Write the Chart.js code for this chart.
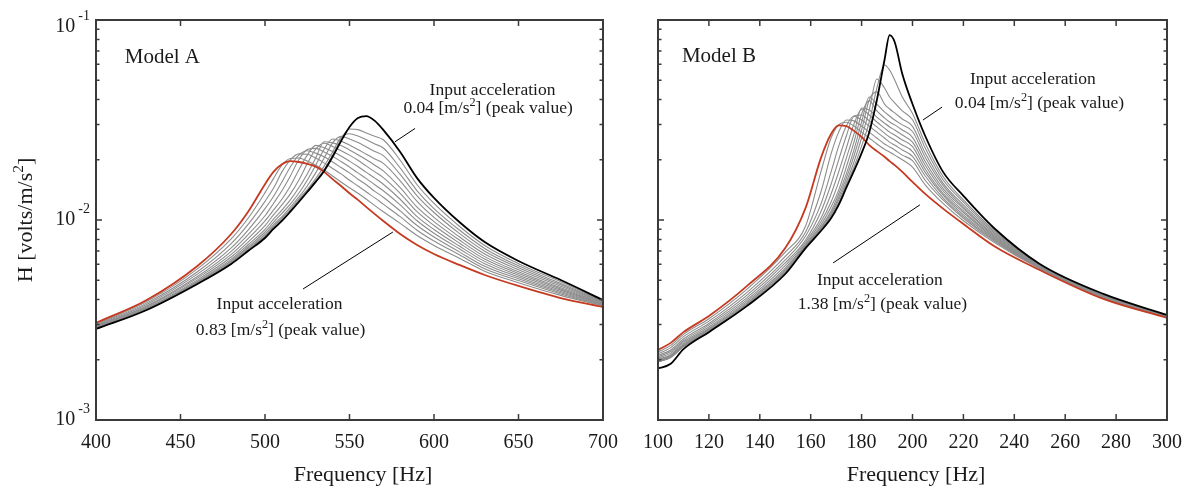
<!DOCTYPE html>
<html>
<head>
<meta charset="utf-8">
<script src="https://cdn.jsdelivr.net/npm/chart.js@4.4.1/dist/chart.umd.min.js"></script>
<style>
  html, body { margin: 0; padding: 0; background: #fff; }
  #wrap { position: relative; width: 1186px; height: 492px; }
  .panel { position: absolute; top: 0; height: 492px; }
  #panelA { left: 0; width: 620px; }
  #panelB { left: 620px; width: 566px; }
</style>
</head>
<body>
<div id="wrap">
  <div class="panel" id="panelA"><canvas id="chartA"></canvas></div>
  <div class="panel" id="panelB"><canvas id="chartB"></canvas></div>
</div>
<script>
// Model A: frequency grid [Hz] and H [volts/m/s^2] for each input level
const freqA = [400, 430, 460, 480, 490, 500, 505, 510, 515, 520, 525, 530, 535, 540, 545, 550, 555, 560, 565, 570, 580, 590, 600, 615, 630, 650, 675, 700];
const hA_004 = [0.00285, 0.00355, 0.00479, 0.00603, 0.00700, 0.00813, 0.00902, 0.00989, 0.0110, 0.0123, 0.0138, 0.0155, 0.0176, 0.0207, 0.0248, 0.0292, 0.0324, 0.0331, 0.0313, 0.0282, 0.0219, 0.0162, 0.0129, 0.00977, 0.00776, 0.00624, 0.00501, 0.00398];
const gA1 = [0.00286, 0.00356, 0.00481, 0.00607, 0.00706, 0.00822, 0.00914, 0.0100, 0.0111, 0.0125, 0.0140, 0.0157, 0.0179, 0.0211, 0.0254, 0.0285, 0.0283, 0.0272, 0.0262, 0.0252, 0.0199, 0.0150, 0.0121, 0.00931, 0.00746, 0.00605, 0.00491, 0.00394];
const gA2 = [0.00286, 0.00356, 0.00483, 0.00611, 0.00713, 0.00834, 0.00927, 0.0102, 0.0113, 0.0127, 0.0142, 0.0161, 0.0186, 0.0219, 0.0260, 0.0270, 0.0263, 0.0252, 0.0240, 0.0229, 0.0182, 0.0140, 0.0114, 0.00891, 0.00721, 0.00590, 0.00482, 0.00392];
const gA3 = [0.00286, 0.00358, 0.00485, 0.00617, 0.00723, 0.00849, 0.00946, 0.0104, 0.0116, 0.0130, 0.0148, 0.0172, 0.0204, 0.0243, 0.0262, 0.0254, 0.0244, 0.0232, 0.0220, 0.0210, 0.0169, 0.0132, 0.0109, 0.00857, 0.00698, 0.00577, 0.00474, 0.00390];
const gA4 = [0.00287, 0.00359, 0.00490, 0.00626, 0.00735, 0.00871, 0.00973, 0.0108, 0.0120, 0.0136, 0.0158, 0.0188, 0.0226, 0.0254, 0.0248, 0.0237, 0.0225, 0.0213, 0.0202, 0.0192, 0.0157, 0.0124, 0.0103, 0.00824, 0.00676, 0.00564, 0.00466, 0.00387];
const gA5 = [0.00288, 0.00361, 0.00494, 0.00637, 0.00752, 0.00897, 0.0101, 0.0112, 0.0126, 0.0145, 0.0170, 0.0204, 0.0246, 0.0243, 0.0236, 0.0224, 0.0212, 0.0200, 0.0188, 0.0176, 0.0145, 0.0116, 0.00982, 0.00794, 0.00656, 0.00551, 0.00458, 0.00385];
const gA6 = [0.00290, 0.00364, 0.00502, 0.00653, 0.00776, 0.00938, 0.0106, 0.0119, 0.0135, 0.0158, 0.0191, 0.0226, 0.0242, 0.0233, 0.0222, 0.0211, 0.0199, 0.0186, 0.0174, 0.0163, 0.0136, 0.0110, 0.00938, 0.00767, 0.00638, 0.00540, 0.00452, 0.00382];
const gA7 = [0.00292, 0.00368, 0.00512, 0.00673, 0.00807, 0.00991, 0.0112, 0.0127, 0.0148, 0.0178, 0.0211, 0.0236, 0.0230, 0.0220, 0.0209, 0.0197, 0.0185, 0.0173, 0.0162, 0.0151, 0.0127, 0.0104, 0.00897, 0.00741, 0.00621, 0.00530, 0.00446, 0.00380];
const gA8 = [0.00294, 0.00372, 0.00522, 0.00697, 0.00845, 0.0105, 0.0121, 0.0140, 0.0166, 0.0200, 0.0225, 0.0228, 0.0219, 0.0208, 0.0196, 0.0184, 0.0172, 0.0161, 0.0150, 0.0140, 0.0119, 0.00991, 0.00859, 0.00718, 0.00604, 0.00519, 0.00439, 0.00378];
const gA9 = [0.00296, 0.00378, 0.00536, 0.00726, 0.00891, 0.0114, 0.0131, 0.0155, 0.0184, 0.0211, 0.0222, 0.0216, 0.0207, 0.0195, 0.0183, 0.0172, 0.0160, 0.0150, 0.0139, 0.0130, 0.0111, 0.00938, 0.00822, 0.00693, 0.00587, 0.00508, 0.00433, 0.00376];
const gA10 = [0.00299, 0.00384, 0.00551, 0.00762, 0.00951, 0.0124, 0.0144, 0.0174, 0.0200, 0.0214, 0.0213, 0.0204, 0.0193, 0.0181, 0.0170, 0.0158, 0.0148, 0.0138, 0.0129, 0.0120, 0.0104, 0.00889, 0.00785, 0.00670, 0.00571, 0.00498, 0.00427, 0.00374];
const gA11 = [0.00302, 0.00391, 0.00570, 0.00805, 0.0102, 0.0137, 0.0161, 0.0188, 0.0203, 0.0204, 0.0197, 0.0188, 0.0178, 0.0166, 0.0155, 0.0145, 0.0136, 0.0127, 0.0118, 0.0110, 0.00962, 0.00836, 0.00746, 0.00644, 0.00555, 0.00486, 0.00420, 0.00372];
const hA_083 = [0.00306, 0.00398, 0.00589, 0.00851, 0.0110, 0.0151, 0.0174, 0.0190, 0.0197, 0.0195, 0.0191, 0.0185, 0.0174, 0.0160, 0.0148, 0.0136, 0.0126, 0.0116, 0.0107, 0.00989, 0.00851, 0.00750, 0.00676, 0.00596, 0.00531, 0.00468, 0.00407, 0.00367];

// Model B
const freqB = [100, 105, 110, 120, 135, 150, 158, 164, 168, 171, 174, 177, 180, 183, 186, 189, 191, 193, 196, 200, 205, 212, 220, 232, 250, 275, 300];
const hB_004 = [0.00181, 0.00191, 0.00226, 0.00275, 0.00372, 0.00537, 0.00724, 0.00881, 0.0102, 0.0119, 0.0145, 0.0176, 0.0216, 0.0275, 0.0398, 0.0631, 0.0841, 0.0776, 0.0537, 0.0380, 0.0263, 0.0174, 0.0132, 0.00912, 0.00603, 0.00427, 0.00335];
const gB1 = [0.00195, 0.00205, 0.00233, 0.00277, 0.00373, 0.00541, 0.00728, 0.00891, 0.0104, 0.0122, 0.0150, 0.0184, 0.0234, 0.0309, 0.0457, 0.0596, 0.0562, 0.0501, 0.0412, 0.0341, 0.0242, 0.0165, 0.0126, 0.00889, 0.00597, 0.00424, 0.00333];
const gB2 = [0.00196, 0.00206, 0.00233, 0.00277, 0.00375, 0.00543, 0.00731, 0.00902, 0.0106, 0.0126, 0.0155, 0.0195, 0.0257, 0.0355, 0.0507, 0.0457, 0.0412, 0.0385, 0.0351, 0.0317, 0.0229, 0.0159, 0.0123, 0.00875, 0.00594, 0.00422, 0.00333];
const gB3 = [0.00197, 0.00207, 0.00234, 0.00279, 0.00378, 0.00548, 0.00736, 0.00912, 0.0108, 0.0130, 0.0162, 0.0209, 0.0282, 0.0398, 0.0437, 0.0380, 0.0359, 0.0343, 0.0320, 0.0294, 0.0216, 0.0153, 0.0119, 0.00861, 0.00592, 0.00420, 0.00332];
const gB4 = [0.00198, 0.00208, 0.00236, 0.00281, 0.00381, 0.00555, 0.00741, 0.00923, 0.0111, 0.0135, 0.0170, 0.0224, 0.0309, 0.0412, 0.0380, 0.0347, 0.0331, 0.0316, 0.0299, 0.0277, 0.0206, 0.0149, 0.0116, 0.00847, 0.00587, 0.00418, 0.00331];
const gB5 = [0.00200, 0.00210, 0.00238, 0.00284, 0.00385, 0.00564, 0.00750, 0.00944, 0.0116, 0.0141, 0.0184, 0.0245, 0.0339, 0.0394, 0.0351, 0.0324, 0.0309, 0.0299, 0.0282, 0.0259, 0.0196, 0.0144, 0.0114, 0.00836, 0.00585, 0.00416, 0.00330];
const gB6 = [0.00201, 0.00212, 0.00241, 0.00287, 0.00392, 0.00575, 0.00759, 0.00977, 0.0123, 0.0155, 0.0204, 0.0269, 0.0363, 0.0355, 0.0327, 0.0305, 0.0292, 0.0282, 0.0266, 0.0245, 0.0188, 0.0140, 0.0111, 0.00826, 0.00583, 0.00415, 0.00330];
const gB7 = [0.00204, 0.00216, 0.00245, 0.00292, 0.00400, 0.00592, 0.00776, 0.0102, 0.0135, 0.0174, 0.0229, 0.0302, 0.0357, 0.0335, 0.0309, 0.0288, 0.0275, 0.0266, 0.0251, 0.0233, 0.0180, 0.0136, 0.0109, 0.00815, 0.00581, 0.00414, 0.00329];
const gB8 = [0.00207, 0.00220, 0.00249, 0.00298, 0.00409, 0.00610, 0.00794, 0.0110, 0.0151, 0.0200, 0.0263, 0.0331, 0.0335, 0.0313, 0.0292, 0.0272, 0.0260, 0.0251, 0.0237, 0.0220, 0.0173, 0.0133, 0.0106, 0.00805, 0.00578, 0.00412, 0.00328];
const gB9 = [0.00210, 0.00224, 0.00254, 0.00304, 0.00421, 0.00631, 0.00832, 0.0120, 0.0174, 0.0234, 0.0295, 0.0330, 0.0316, 0.0295, 0.0275, 0.0257, 0.0245, 0.0237, 0.0224, 0.0208, 0.0166, 0.0129, 0.0104, 0.00796, 0.00575, 0.00411, 0.00327];
const gB10 = [0.00214, 0.00230, 0.00261, 0.00312, 0.00435, 0.00658, 0.00871, 0.0138, 0.0214, 0.0275, 0.0316, 0.0313, 0.0295, 0.0275, 0.0257, 0.0240, 0.0232, 0.0224, 0.0211, 0.0198, 0.0158, 0.0126, 0.0102, 0.00785, 0.00573, 0.00409, 0.00327];
const gB11 = [0.00219, 0.00236, 0.00268, 0.00321, 0.00451, 0.00690, 0.00933, 0.0174, 0.0257, 0.0299, 0.0308, 0.0295, 0.0275, 0.0257, 0.0240, 0.0226, 0.0219, 0.0211, 0.0200, 0.0184, 0.0150, 0.0121, 0.00991, 0.00773, 0.00570, 0.00407, 0.00326];
const hB_138 = [0.00224, 0.00243, 0.00275, 0.00331, 0.00468, 0.00724, 0.0115, 0.0204, 0.0269, 0.0297, 0.0295, 0.0279, 0.0260, 0.0237, 0.0221, 0.0207, 0.0197, 0.0188, 0.0174, 0.0155, 0.0135, 0.0114, 0.00955, 0.00741, 0.00562, 0.00403, 0.00324];

// tick labels
const xTicksA = [400, 450, 500, 550, 600, 650, 700];
const xTicksB = [100, 120, 140, 160, 180, 200, 220, 240, 260, 280, 300];
const yTickExp = [-3, -2, -1];

const SERIF = "'Liberation Serif', 'Times New Roman', serif";
const GRAY = '#8c8c8c';
const RED = '#c53a20';

function richWidth(ctx, parts, size) {
  let w = 0;
  for (const [t, sup] of parts) {
    ctx.font = (sup ? size * 0.7 : size) + 'px ' + SERIF;
    w += ctx.measureText(t).width;
  }
  return w;
}

function drawRich(ctx, parts, x, y, size, align) {
  const w = richWidth(ctx, parts, size);
  let cx = align === 'center' ? x - w / 2 : align === 'right' ? x - w : x;
  ctx.textAlign = 'left';
  ctx.textBaseline = 'alphabetic';
  for (const [t, sup] of parts) {
    ctx.font = (sup ? size * 0.7 : size) + 'px ' + SERIF;
    ctx.fillText(t, cx, sup ? y - size * 0.42 : y);
    cx += ctx.measureText(t).width;
  }
}

const framePlugin = {
  id: 'frame',
  afterDraw(chart, args, o) {
    const { ctx, chartArea: a, scales: { x, y } } = chart;
    ctx.save();
    ctx.strokeStyle = '#3a3a3a';
    ctx.fillStyle = '#1a1a1a';

    // inward ticks on all four sides
    ctx.lineWidth = 1.5;
    ctx.beginPath();
    for (const v of o.xTicks) {
      const px = x.getPixelForValue(v);
      ctx.moveTo(px, a.bottom); ctx.lineTo(px, a.bottom - 6);
      ctx.moveTo(px, a.top); ctx.lineTo(px, a.top + 6);
    }
    for (const e of yTickExp) {
      for (let m = 1; m <= 9; m++) {
        if (e === -1 && m > 1) break;
        const py = y.getPixelForValue(m * Math.pow(10, e));
        const len = m === 1 ? 6 : 3.5;
        ctx.moveTo(a.left, py); ctx.lineTo(a.left + len, py);
        ctx.moveTo(a.right, py); ctx.lineTo(a.right - len, py);
      }
    }
    ctx.stroke();
    ctx.lineWidth = 2;
    ctx.strokeRect(a.left, a.top, a.right - a.left, a.bottom - a.top);

    // x tick labels
    ctx.font = '20px ' + SERIF;
    ctx.textAlign = 'center';
    ctx.textBaseline = 'alphabetic';
    for (const v of o.xTicks) ctx.fillText(String(v), x.getPixelForValue(v), a.bottom + 28);

    // y tick labels 10^n
    if (o.yLabels) {
      for (const e of yTickExp) {
        const py = y.getPixelForValue(Math.pow(10, e));
        const base = Math.max(py + 5, a.top + 12);
        ctx.textAlign = 'right';
        ctx.font = '14px ' + SERIF;
        const ex = String(e);
        ctx.fillText(ex, a.left - 6, base - 12);
        const exW = ctx.measureText(ex).width;
        ctx.font = '20px ' + SERIF;
        ctx.fillText('10', a.left - 9 - exW, base);
      }
      // y title
      ctx.save();
      ctx.translate(32, (a.top + a.bottom) / 2);
      ctx.rotate(-Math.PI / 2);
      drawRich(ctx, [['H [volts/m/s'], ['2', true], [']']], 0, 0, 22, 'center');
      ctx.restore();
    }

    // x title
    drawRich(ctx, [['Frequency [Hz]']], x.getPixelForValue(o.xTitleAt), a.bottom + 61, 22, 'center');

    // model name
    drawRich(ctx, [[o.model[0]]], x.getPixelForValue(o.model[1]), y.getPixelForValue(o.model[2]), 21, 'left');

    // annotations
    for (const t of o.notes) {
      drawRich(ctx, t.parts, x.getPixelForValue(t.at[0]), y.getPixelForValue(t.at[1]), 17.5, 'center');
    }
    ctx.strokeStyle = '#000';
    ctx.lineWidth = 1;
    ctx.beginPath();
    for (const l of o.leaders) {
      ctx.moveTo(x.getPixelForValue(l[0]), y.getPixelForValue(l[1]));
      ctx.lineTo(x.getPixelForValue(l[2]), y.getPixelForValue(l[3]));
    }
    ctx.stroke();
    ctx.restore();
  }
};

function makeChart(id, freq, black, red, grays, xMin, xMax, opts) {
  const pts = arr => freq.map((f, i) => ({ x: f, y: arr[i] }));
  const datasets = [
    { data: pts(black), borderColor: '#000', borderWidth: 1.8 },
    { data: pts(red), borderColor: RED, borderWidth: 1.8 }
  ].concat(grays.map(g => ({ data: pts(g), borderColor: GRAY, borderWidth: 1.1 })));

  return new Chart(document.getElementById(id), {
    type: 'line',
    data: { datasets },
    options: {
      responsive: true,
      maintainAspectRatio: false,
      animation: false,
      devicePixelRatio: 1,
      layout: { padding: opts.padding },
      elements: {
        point: { radius: 0 },
        line: { cubicInterpolationMode: 'monotone', fill: false }
      },
      plugins: { legend: { display: false }, tooltip: { enabled: false }, frame: opts },
      scales: {
        x: { type: 'linear', min: xMin, max: xMax, display: false },
        y: { type: 'logarithmic', min: 0.001, max: 0.1, display: false }
      }
    },
    plugins: [framePlugin]
  });
}

makeChart('chartA', freqA, hA_004, hA_083,
  [gA1, gA2, gA3, gA4, gA5, gA6, gA7, gA8, gA9, gA10, gA11], 400, 700, {
    padding: { left: 96, right: 17, top: 20, bottom: 72 },
    xTicks: xTicksA,
    yLabels: true,
    xTitleAt: 558,
    model: ['Model A', 417, 0.061],
    notes: [
      { at: [634.6, 0.0422], parts: [['Input acceleration']] },
      { at: [632, 0.0343], parts: [['0.04 [m/s'], ['2', true], ['] (peak value)']] },
      { at: [508.6, 0.00359], parts: [['Input acceleration']] },
      { at: [509.2, 0.00266], parts: [['0.83 [m/s'], ['2', true], ['] (peak value)']] }
    ],
    leaders: [[588.8, 0.0287, 576.9, 0.0246], [522.5, 0.00452, 575.7, 0.00871]]
  });

makeChart('chartB', freqB, hB_004, hB_138,
  [gB1, gB2, gB3, gB4, gB5, gB6, gB7, gB8, gB9, gB10, gB11], 100, 300, {
    padding: { left: 38, right: 19, top: 20, bottom: 72 },
    xTicks: xTicksB,
    yLabels: false,
    xTitleAt: 201.4,
    model: ['Model B', 109.4, 0.0617],
    notes: [
      { at: [247.3, 0.0479], parts: [['Input acceleration']] },
      { at: [249.9, 0.0363], parts: [['0.04 [m/s'], ['2', true], ['] (peak value)']] },
      { at: [187.2, 0.00473], parts: [['Input acceleration']] },
      { at: [188.2, 0.00359], parts: [['1.38 [m/s'], ['2', true], ['] (peak value)']] }
    ],
    leaders: [[204.1, 0.0316, 211.6, 0.0367], [168.8, 0.0061, 202.9, 0.0119]]
  });
</script>
</body>
</html>
